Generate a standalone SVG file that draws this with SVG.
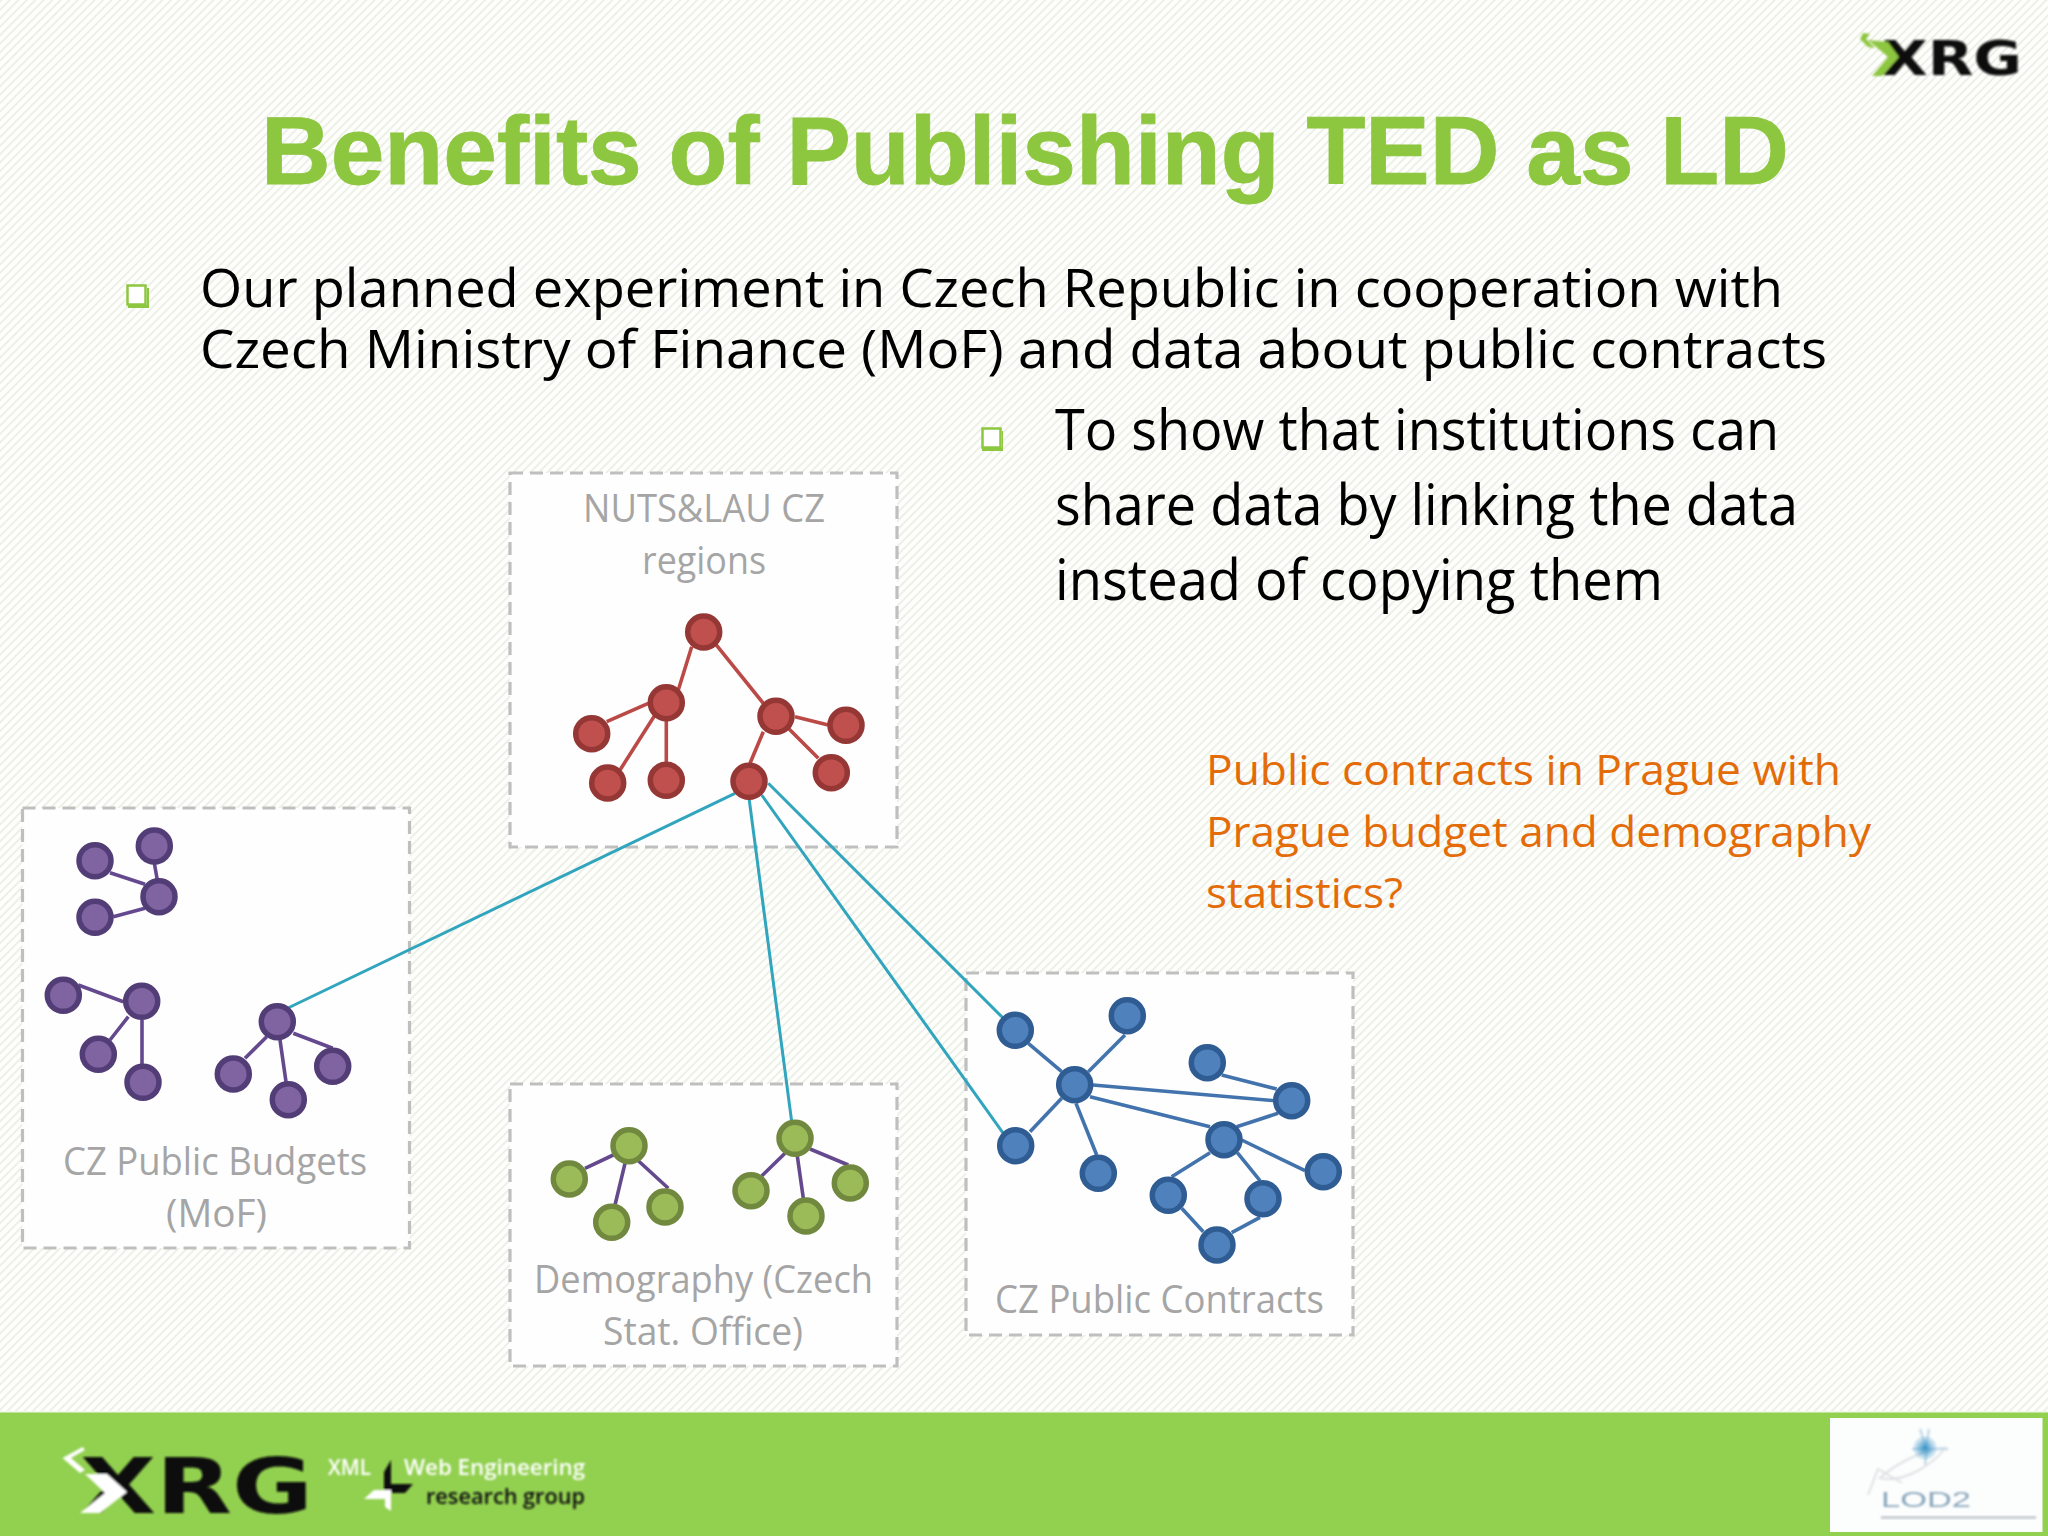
<svg xmlns="http://www.w3.org/2000/svg" width="2048" height="1536" viewBox="0 0 2048 1536">
<style>
text{font-variant-ligatures:none}
.ti{font-family:"Liberation Sans",Arial,sans-serif;font-weight:700;fill:#8dc63f;stroke:#8dc63f;stroke-width:.8}
.bd{font-family:"Open Sans","Noto Sans",sans-serif;fill:#000}
.or{font-family:"Open Sans","Noto Sans",sans-serif;fill:#e36c09;font-size:42px}
.lb{font-family:"Open Sans","Noto Sans",sans-serif;fill:#a5a5a5;font-size:38px}
.box{fill:#fefefe;stroke:#bfbfbf;stroke-width:3.2;stroke-dasharray:13 7}
.e{fill:none;stroke-width:3.6;stroke-linecap:butt}
.er{stroke:#bb4a47}.ep{stroke:#64498e}.eb{stroke:#4373ad}
.et{stroke:#31a5bd;stroke-width:3}
.n{stroke-width:5.5}
.nr{fill:#c0504d;stroke:#953735}.np{fill:#8064a2;stroke:#533d77}.nb{fill:#4f81bd;stroke:#2f5c92}.ng{fill:#9bbb59;stroke:#71893f}
.bl{fill:#fff;stroke:#8dc63f;stroke-width:2.5}
.xrg{font-family:"DejaVu Sans",sans-serif;font-weight:700;fill:#0c0c0c}
.sm{font-family:"Open Sans",sans-serif;font-weight:600;font-size:22px}
</style>
<defs>
<pattern id="hatch" width="6" height="6" patternUnits="userSpaceOnUse" patternTransform="rotate(45)">
<rect width="6" height="6" fill="#fefefc"/><rect width="2" height="6" fill="#edf0e6"/>
</pattern>
<filter id="b1" x="-10%" y="-30%" width="120%" height="160%"><feGaussianBlur stdDeviation="0.9"/></filter>
<radialGradient id="star"><stop offset="0" stop-color="#3f97c9"/><stop offset="1" stop-color="#3f97c9" stop-opacity="0"/></radialGradient>
</defs>
<rect id="background" width="2048" height="1536" fill="url(#hatch)"/>

<g id="title"><text class="ti" x="261" y="184" font-size="96" textLength="1528" lengthAdjust="spacingAndGlyphs">Benefits of Publishing TED as LD</text></g>

<g id="bullets">
<rect class="bl" x="127.500" y="285.500" width="18" height="19"/><path d="M147 288h2v20h-21v-3h19z" fill="#8dc63f"/>
<rect class="bl" x="982.500" y="428.500" width="18" height="19"/><path d="M1002 431h1v20h-21v-3h20z" fill="#8dc63f"/>
</g>
<g id="body-text">
<text class="bd" x="200" y="307" font-size="53" textLength="1583" lengthAdjust="spacingAndGlyphs">Our planned experiment in Czech Republic in cooperation with</text>
<text class="bd" x="200" y="368" font-size="53" textLength="1627" lengthAdjust="spacingAndGlyphs">Czech Ministry of Finance (MoF) and data about public contracts</text>
<text class="bd" x="1055" y="450" font-size="56" textLength="724" lengthAdjust="spacingAndGlyphs">To show that institutions can</text>
<text class="bd" x="1055" y="525" font-size="56" textLength="743" lengthAdjust="spacingAndGlyphs">share data by linking the data</text>
<text class="bd" x="1055" y="600" font-size="56" textLength="608" lengthAdjust="spacingAndGlyphs">instead of copying them</text>
</g>
<g id="note">
<text class="or" x="1206" y="785" textLength="635" lengthAdjust="spacingAndGlyphs">Public contracts in Prague with</text>
<text class="or" x="1206" y="847" textLength="665" lengthAdjust="spacingAndGlyphs">Prague budget and demography</text>
<text class="or" x="1206" y="908" textLength="197" lengthAdjust="spacingAndGlyphs">statistics?</text>
</g>

<g id="box-nuts"><rect class="box" x="510" y="473" width="387" height="374"/>
<text class="lb" x="583" y="522" textLength="242" lengthAdjust="spacingAndGlyphs">NUTS&amp;LAU CZ</text>
<text class="lb" x="642" y="574" textLength="124" lengthAdjust="spacingAndGlyphs">regions</text></g>
<g id="box-budgets"><rect class="box" x="22.500" y="808" width="387" height="440"/>
<text class="lb" x="63" y="1175" textLength="304" lengthAdjust="spacingAndGlyphs">CZ Public Budgets</text>
<text class="lb" x="166" y="1227" textLength="101" lengthAdjust="spacingAndGlyphs">(MoF)</text></g>
<g id="box-demography"><rect class="box" x="510" y="1084" width="387" height="282"/>
<text class="lb" x="534" y="1293" textLength="339" lengthAdjust="spacingAndGlyphs">Demography (Czech</text>
<text class="lb" x="603" y="1345" textLength="200" lengthAdjust="spacingAndGlyphs">Stat. Office)</text></g>
<g id="box-contracts"><rect class="box" x="966" y="973" width="387" height="362"/>
<text class="lb" x="995" y="1313" textLength="329" lengthAdjust="spacingAndGlyphs">CZ Public Contracts</text></g>

<g id="connectors">
<g class="e er">
<path d="M691.700 646.700L678.300 690M715 643.300L763.300 703.300M606.700 721.700L648.300 703.300M655 715L620 770M666.300 718V765M763.300 731.700L750 763.300M795 716.700L828.300 725M788.300 728.300L818.300 758.300"/>
</g>
<g class="e ep">
<path d="M110 872.700L145 884.300M113.300 916.700L145 908.300M154.300 863L157.300 880M78.300 985L123.300 1001.700M128.300 1016.700L110 1040M142 1020V1065M266.700 1036.700L245 1058.300M293.300 1033.300L332.700 1048.300M280 1040L286 1081.700"/>
<path d="M585 1168.300L613.300 1155M625 1163.300L615 1205M638.300 1160.700L668.300 1188.300M785 1153.300L761.700 1176M797.300 1156L803.300 1198.300M810 1149L848.300 1165"/>
</g>
<g class="e eb">
<path d="M1028.300 1043.300L1061.700 1071.700M1088.300 1071.700L1125 1035M1030 1131.700L1061.700 1098.300M1076 1103.300L1096.700 1155M1093 1085L1275 1100.700M1090 1096.700L1210 1126.700M1221.700 1075L1276.700 1089M1278 1113.300L1236.700 1126.700M1241.700 1140L1305 1170.700M1210 1152.700L1171.700 1176.700M1237.300 1152.700L1260 1180.700M1181.700 1208.300L1203.300 1231.700M1260 1217.300L1231.700 1232.700"/>
</g>
<g class="e et">
<path d="M735 793.300L288 1008M749 798L791.700 1121.700M761.700 795L1003.300 1133.300M768.300 783.300L1003.300 1018.300"/>
</g>
</g>

<g id="red-1"><circle class="n nr" cx="703.700" cy="632" r="16"/></g>
<g id="red-2"><circle class="n nr" cx="666.300" cy="702.700" r="16"/></g>
<g id="red-3"><circle class="n nr" cx="591.700" cy="733.700" r="16"/></g>
<g id="red-4"><circle class="n nr" cx="607.700" cy="783" r="16"/></g>
<g id="red-5"><circle class="n nr" cx="666.300" cy="780.300" r="16"/></g>
<g id="red-6"><circle class="n nr" cx="776" cy="716.300" r="16"/></g>
<g id="red-7"><circle class="n nr" cx="846" cy="725.300" r="16"/></g>
<g id="red-8"><circle class="n nr" cx="831.300" cy="772.700" r="16"/></g>
<g id="red-9"><circle class="n nr" cx="749" cy="781.300" r="16"/></g>

<g id="purple-1"><circle class="n np" cx="95" cy="860.700" r="16"/></g>
<g id="purple-2"><circle class="n np" cx="154.300" cy="846" r="16"/></g>
<g id="purple-3"><circle class="n np" cx="159" cy="896.700" r="16"/></g>
<g id="purple-4"><circle class="n np" cx="95" cy="917.300" r="16"/></g>
<g id="purple-5"><circle class="n np" cx="63.300" cy="995.300" r="16"/></g>
<g id="purple-6"><circle class="n np" cx="141.700" cy="1001.300" r="16"/></g>
<g id="purple-7"><circle class="n np" cx="98.300" cy="1054.300" r="16"/></g>
<g id="purple-8"><circle class="n np" cx="143" cy="1082.300" r="16"/></g>
<g id="purple-9"><circle class="n np" cx="277.300" cy="1021.700" r="16"/></g>
<g id="purple-10"><circle class="n np" cx="233.300" cy="1074" r="16"/></g>
<g id="purple-11"><circle class="n np" cx="332.700" cy="1066.300" r="16"/></g>
<g id="purple-12"><circle class="n np" cx="288.300" cy="1099.700" r="16"/></g>

<g id="green-1"><circle class="n ng" cx="629" cy="1145.700" r="16"/></g>
<g id="green-2"><circle class="n ng" cx="569.300" cy="1179" r="16"/></g>
<g id="green-3"><circle class="n ng" cx="611.700" cy="1222.300" r="16"/></g>
<g id="green-4"><circle class="n ng" cx="665" cy="1207" r="16"/></g>
<g id="green-5"><circle class="n ng" cx="795" cy="1138.300" r="16"/></g>
<g id="green-6"><circle class="n ng" cx="751" cy="1190.700" r="16"/></g>
<g id="green-7"><circle class="n ng" cx="806" cy="1216" r="16"/></g>
<g id="green-8"><circle class="n ng" cx="850.300" cy="1183" r="16"/></g>

<g id="blue-1"><circle class="n nb" cx="1015.300" cy="1030.300" r="16"/></g>
<g id="blue-2"><circle class="n nb" cx="1127.300" cy="1015.700" r="16"/></g>
<g id="blue-3"><circle class="n nb" cx="1074.700" cy="1084.700" r="16"/></g>
<g id="blue-4"><circle class="n nb" cx="1015.700" cy="1145.700" r="16"/></g>
<g id="blue-5"><circle class="n nb" cx="1098.300" cy="1173.300" r="16"/></g>
<g id="blue-6"><circle class="n nb" cx="1207.300" cy="1062.700" r="16"/></g>
<g id="blue-7"><circle class="n nb" cx="1291.700" cy="1100.700" r="16"/></g>
<g id="blue-8"><circle class="n nb" cx="1224" cy="1139.700" r="16"/></g>
<g id="blue-9"><circle class="n nb" cx="1323.300" cy="1171.700" r="16"/></g>
<g id="blue-10"><circle class="n nb" cx="1168.300" cy="1195.300" r="16"/></g>
<g id="blue-11"><circle class="n nb" cx="1263" cy="1198.700" r="16"/></g>
<g id="blue-12"><circle class="n nb" cx="1217" cy="1245" r="16"/></g>

<g id="logo-top" filter="url(#b1)">
<text class="xrg" x="1882" y="75" font-size="48" textLength="140" lengthAdjust="spacingAndGlyphs">XRG</text>
<path d="M1863 33l-3 6 8 8 7 1-9-9 4-5zM1868 40l20 2 11 15-17 19h-10l16-19z" fill="#8dc63f"/>
</g>

<g id="footer">
<rect x="0" y="1412" width="2048" height="124" fill="#92d050"/>
<rect x="0" y="1411" width="2048" height="1.500" fill="#f2f8e8"/>
<g id="logo-bottom" filter="url(#b1)">
<text class="xrg" x="80" y="1513" font-size="77" textLength="233" lengthAdjust="spacingAndGlyphs">XRG</text>
<path d="M82.600 1447L62.500 1458L80 1473L85 1470L71 1458L85 1450zM85 1474H107L127 1492L100 1513H80L105 1493z" fill="#fff"/>
<text class="sm" x="328" y="1475" fill="#fff" textLength="43" lengthAdjust="spacingAndGlyphs">XML</text>
<text class="sm" x="404" y="1475" fill="#fff" textLength="181" lengthAdjust="spacingAndGlyphs">Web Engineering</text>
<text class="sm" x="426" y="1504" fill="#111" textLength="159" lengthAdjust="spacingAndGlyphs">research group</text>
<path d="M384 1472l7-12v24h22l-8 9h-21z" fill="#111"/>
<path d="M364 1499l10-9h17v21l-6-4v-8z" fill="#fff"/>
</g>
<g id="logo-lod2">
<rect x="1830" y="1418" width="212.500" height="114" fill="#fcfdfd"/>
<g filter="url(#b1)">
<path d="M1880 1478c20-18 50-30 65-30-10 14-40 36-65 30zM1868 1495l10-26 24 14" fill="none" stroke="#dfe2e4" stroke-width="2"/>
<path d="M1920 1429l6 18 3-18M1912 1449h36M1925 1465l2-18" fill="none" stroke="#c5dcea" stroke-width="2.500"/>
</g>
<circle cx="1925" cy="1448" r="13" fill="url(#star)"/>
<text x="1881" y="1507" font-family="Liberation Sans, Arial, sans-serif" font-size="22" fill="#8ba8bd" textLength="90" lengthAdjust="spacingAndGlyphs" filter="url(#b1)">LOD2</text>
<rect x="1881" y="1516" width="155" height="3" fill="#c8ced3" filter="url(#b1)"/>
</g>
</g>
</svg>
